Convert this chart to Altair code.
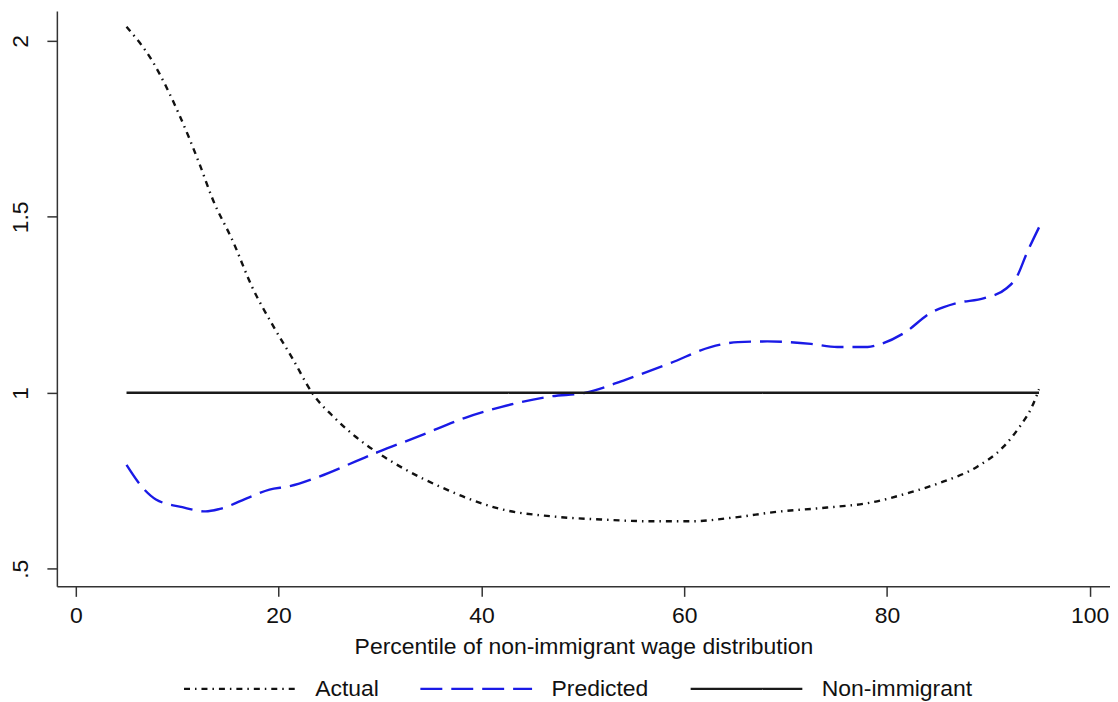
import pandas as pd
import altair as alt

# values
actual_x = [5.0, 7.6, 10.2, 12.2, 13.5, 15.5, 17.4, 19.5, 21.4, 23.3, 25.7, 27.6,
            29.6, 32.5, 36.1, 38.4, 42.0, 46.9, 51.8, 56.7, 60.7, 65.0, 69.2, 74.1,
            78.4, 82.3, 85.6, 88.9, 91.5, 93.1, 94.3, 95.0]
actual_y = [2.04, 1.94, 1.79, 1.65, 1.55, 1.43, 1.30, 1.188, 1.096, 1.0, 0.924, 0.875,
            0.833, 0.782, 0.731, 0.703, 0.669, 0.649, 0.640, 0.635, 0.635, 0.646, 0.662,
            0.674, 0.688, 0.717, 0.748, 0.79, 0.847, 0.904, 0.96, 1.01]

pred_x = [5.0, 6.6, 7.9, 10.5, 12.8, 14.2, 17.1, 19.1, 21.0, 24.0, 27.6, 29.9, 33.8,
          38.4, 42.0, 46.9, 50.2, 54.2, 58.7, 62.6, 65.3, 68.2, 72.5, 75.1, 78.1,
          79.1, 81.7, 84.3, 86.9, 89.6, 91.8, 92.8, 93.8, 95.0]
pred_y = [0.795, 0.73, 0.697, 0.675, 0.663, 0.67, 0.703, 0.725, 0.734, 0.762, 0.805,
          0.833, 0.876, 0.929, 0.96, 0.99, 1.0, 1.037, 1.085, 1.13, 1.144, 1.146, 1.139,
          1.13, 1.13, 1.136, 1.17, 1.227, 1.255, 1.269, 1.297, 1.329, 1.397, 1.47]

nonimm_x = [5, 95]
nonimm_y = [1, 1]

series = ['Actual', 'Predicted', 'Non-immigrant']
colors = ['#111111', '#1a1ae6', '#1a1a1a']
dashes = [[6, 5, 1.5, 5], [22, 9], [1, 0]]

df = pd.concat([
    pd.DataFrame({'pct': actual_x, 'val': actual_y, 'series': 'Actual'}),
    pd.DataFrame({'pct': pred_x, 'val': pred_y, 'series': 'Predicted'}),
    pd.DataFrame({'pct': nonimm_x, 'val': nonimm_y, 'series': 'Non-immigrant'}),
])

FONT = 'Liberation Sans'

chart = alt.Chart(df).mark_line(strokeWidth=2.4, interpolate='monotone').encode(
    x=alt.X('pct:Q', title='Percentile of non-immigrant wage distribution',
            scale=alt.Scale(domain=[-1.87, 102], nice=False, zero=False),
            axis=alt.Axis(values=[0, 20, 40, 60, 80, 100], tickSize=10,
                          labelPadding=8, titlePadding=8, grid=False)),
    y=alt.Y('val:Q', title=None,
            scale=alt.Scale(domain=[0.45, 2.085], nice=False, zero=False),
            axis=alt.Axis(values=[0.5, 1, 1.5, 2], tickSize=10, labelAngle=270,
                          labelPadding=14, grid=False,
                          labelExpr="datum.value == 0.5 ? '.5' : '' + datum.value")),
    color=alt.Color('series:N', title=None,
                    scale=alt.Scale(domain=series, range=colors),
                    legend=alt.Legend(orient='none', legendX=126, legendY=622,
                                      direction='horizontal', symbolType='stroke',
                                      symbolSize=12544, symbolStrokeWidth=2.4,
                                      labelOffset=18, columnPadding=36, padding=0)),
    strokeDash=alt.StrokeDash('series:N', title=None,
                              scale=alt.Scale(domain=series, range=dashes)),
    detail='series:N',
).properties(
    width=1056, height=577,
    autosize=alt.AutoSizeParams(type='none'),
    padding={'left': 49, 'top': 2, 'right': 0, 'bottom': 115},
).configure(
    font=FONT,
).configure_axis(
    labelFont=FONT, titleFont=FONT, labelFontSize=23, titleFontSize=23,
    labelColor='#111111', titleColor='#111111', titleFontWeight='normal',
    domainColor='#333333', tickColor='#333333', domainWidth=1.5, tickWidth=1.5,
).configure_legend(
    labelFont=FONT, labelFontSize=23, labelColor='#111111',
).configure_view(stroke=None)

chart.save('out.html', embed_options={'renderer': 'svg', 'actions': False})
